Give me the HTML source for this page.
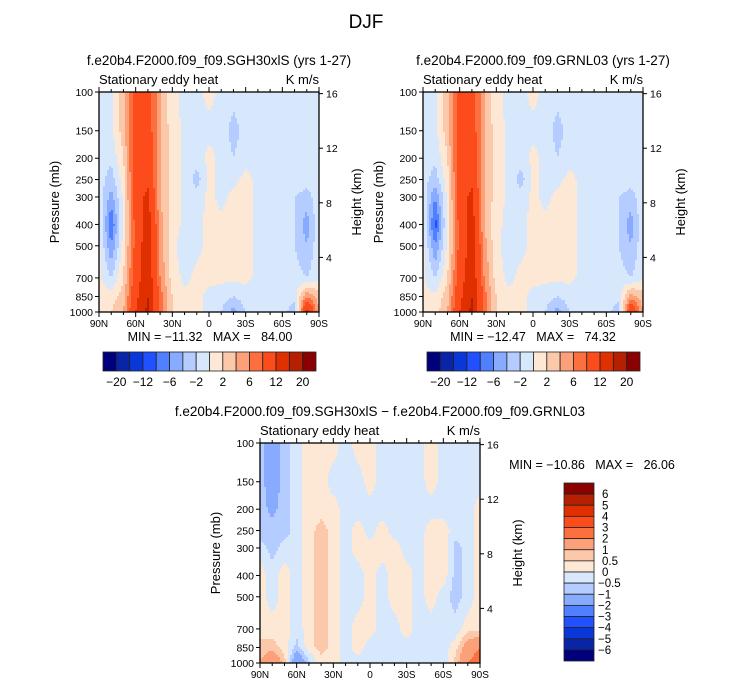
<!DOCTYPE html>
<html><head><meta charset="utf-8"><style>
body{margin:0;background:#fff;}
svg{display:block;font-family:"Liberation Sans",sans-serif;}
text{white-space:pre;}
</style></head><body>
<svg id="fig" width="733" height="686" viewBox="0 0 733 686" xmlns="http://www.w3.org/2000/svg">
<text x="366" y="28" font-size="19" text-anchor="middle">DJF</text>
</svg>
<script>
const lats=[90,80,70,60,50,40,30,20,10,0,-10,-20,-30,-40,-50,-60,-70,-80,-90];
const levels=[100,150,200,250,300,400,500,700,850,1000];
const pTicks=[100,150,200,250,300,400,500,700,850,1000];
const hTicks=[4,8,12,16];
const xTickLabels=["90N","60N","30N","0","30S","60S","90S"];
const xTickLats=[90,60,30,0,-30,-60,-90];
const palette=["#00007c","#0a24a8","#0a38d8","#2050ff","#4e80ff","#88aaff","#b4ccff","#d8e8fc","#fde8d6","#fcc8aa","#fca07a","#fc7040","#fc4c1c","#e03000","#b42000","#8b0000"];
const bounds1=[-20,-16,-12,-8,-6,-4,-2,0,2,4,6,8,12,16,20];
const bounds1Labels=["-20","-12","-6","-2","2","6","12","20"];
const bounds3=[-6,-5,-4,-3,-2,-1,-0.5,0,0.5,1,2,3,4,5,6];
const bounds3Labels=["-6","-5","-4","-3","-2","-1","-0.5","0","0.5","1","2","3","4","5","6"];
const field1=[
[-1,-0.5,3,10,10,4,0.5,-0.5,-0.5,0.5,-0.5,-1,-0.5,-0.5,-0.5,-0.5,-0.5,-0.5,-0.5],
[-1,-0.5,3,10,10,4,1,-0.5,-0.5,-0.5,-0.5,-3,-1,-0.5,-0.5,-0.5,-0.5,-0.5,-0.5],
[-1,-1.5,2,10,11,4,1.5,-0.5,-1,0.5,-0.5,-2,-0.5,-0.5,-0.5,-0.5,-0.5,-0.5,-0.5],
[-1,-3,1,10,11,4,1,-0.5,-3,0.5,-0.5,-0.5,0.5,-0.5,-0.5,-0.5,-0.5,-1,-0.5],
[-0.5,-5,0.5,10,13,4,1,-0.5,-1,0.5,-0.5,0.5,1,-0.5,-0.5,-0.5,-2,-3,-0.5],
[0.5,-8,0.5,9,14,5,1,-0.5,-0.5,0.5,0.5,0.5,1,-0.5,-0.5,-0.5,-2,-5,-0.5],
[0.5,-6,1,9,15,5,0.5,-1,-0.5,0.5,0.5,0.5,1,-0.5,-0.5,-0.5,-2,-4,-0.5],
[0.5,-2,2,10,15,6,1,-0.5,0.5,0.5,0.5,0.5,0.5,-0.5,-0.5,-0.5,-1,-2,-0.5],
[1,1,3,11,16,7,2,0.5,0.5,-0.5,-1,-2,-1,-0.5,-0.5,-0.5,-1,6,3],
[1,2,4,12,17,7,2,0.5,0.5,-0.5,-2,-5,-2,-0.5,-0.5,-0.5,-4,14,4]];
const field2=[
[-1,-0.5,3,10,10,4,0.5,-0.5,-0.5,0.5,-0.5,-1,-0.5,-0.5,-0.5,-0.5,-0.5,-0.5,-0.5],
[-1,-0.5,3,10,10,4,1,-0.5,-0.5,-0.5,-0.5,-3,-1,-0.5,-0.5,-0.5,-0.5,-0.5,-0.5],
[-1,-1.5,2,10,11,4,1,-0.5,-1,0.5,-0.5,-2,-0.5,-0.5,-0.5,-0.5,-0.5,-0.5,-0.5],
[-1,-3,1,10,11,4,1,-0.5,-3,0.5,-0.5,-0.5,0.5,-0.5,-0.5,-0.5,-0.5,-1,-0.5],
[-0.5,-6,0.5,10,13,4,1,-0.5,-1,0.5,-0.5,0.5,1,-0.5,-0.5,-0.5,-2,-3,-0.5],
[0.5,-9,0.5,9,14,4,0.5,-0.5,-0.5,0.5,0.5,0.5,1,-0.5,-0.5,-0.5,-2,-5,-0.5],
[0.5,-6,0.5,9,14,5,0.5,-1,-0.5,0.5,0.5,0.5,1,-0.5,-0.5,-0.5,-2,-4,-0.5],
[0.5,-2,2,10,15,6,1,-0.5,0.5,0.5,0.5,0.5,0.5,-0.5,-0.5,-0.5,-1,-2,-0.5],
[0.5,0.5,3,11,16,7,2,0.5,0.5,-0.5,-1,-2,-1,-0.5,-0.5,-0.5,-1,5,3],
[0.5,1,4,12,17,7,2,0.5,0.5,-0.5,-2,-5,-2,-0.5,-0.5,-0.5,-4,12,4]];
const field3=[
[-0.7,-1.5,-0.7,-0.3,0.3,0.3,0.3,-0.3,0.3,0.3,-0.3,-0.3,-0.3,-0.3,0.3,-0.3,-0.3,-0.3,-0.3],
[-0.7,-1.5,-0.7,-0.3,0.3,0.3,-0.3,-0.3,-0.3,0.3,-0.3,-0.3,-0.3,-0.3,0.3,-0.3,-0.3,-0.3,-0.3],
[-0.7,-1.2,-0.7,-0.3,0.3,0.3,0.3,-0.3,-0.3,-0.3,-0.3,-0.3,-0.3,-0.3,-0.3,-0.3,-0.3,-0.3,0.3],
[-0.7,-0.7,-0.7,-0.3,0.3,0.7,0.3,-0.3,0.3,-0.3,0.3,-0.3,-0.3,-0.3,0.3,0.3,-0.3,-0.3,0.3],
[-0.3,-0.7,-0.3,-0.3,0.3,0.7,0.3,-0.3,0.3,0.3,0.3,0.3,-0.3,-0.3,0.3,0.3,-0.7,-0.3,0.3],
[0.3,-0.3,0.3,-0.3,0.3,0.7,0.3,-0.3,-0.3,0.3,-0.3,0.3,0.3,-0.3,0.3,0.3,-0.7,-0.3,0.3],
[0.3,-0.3,0.3,-0.3,0.3,0.7,0.3,-0.3,-0.3,0.3,-0.3,0.3,0.3,-0.3,0.3,-0.3,-0.7,-0.3,0.3],
[0.3,0.3,0.3,-0.3,0.3,0.7,0.3,-0.3,0.3,0.3,-0.3,-0.3,0.3,-0.3,-0.3,-0.3,-0.3,0.3,0.3],
[0.7,0.7,0.3,-0.7,0.3,0.7,0.3,-0.3,0.3,-0.3,-0.3,-0.3,-0.3,-0.3,-0.3,-0.3,0.3,1.5,2],
[1,2,0.7,-2,-0.7,0.3,0.3,-0.3,-0.3,-0.3,-0.3,-0.3,-0.3,-0.3,-0.3,-0.3,0.7,2,2.5]];

const NS="http://www.w3.org/2000/svg";
const svg=document.getElementById('fig');
function mk(tag,attrs,parent,txt){const e=document.createElementNS(NS,tag);for(const k in attrs)e.setAttribute(k,attrs[k]);if(txt!==undefined)e.textContent=txt;(parent||svg).appendChild(e);return e;}

function panel(name,x0,y0,w,h,field,bounds,title,minmax,mmx,mmy){
  const g=mk('g',{});
  
  
  const xs=lat=>x0+(90-lat)/180*w;
  const ys=p=>y0+h-Math.log10(1000/p)*h;
  const col=v=>{let i=0;while(i<bounds.length&&v>=bounds[i])i++;return palette[i];};
  const px=lats.map(xs), py=levels.map(ys);
  function val(x,y){
    let i=0;while(i<px.length-2&&x>px[i+1])i++;
    let j=0;while(j<py.length-2&&y>py[j+1])j++;
    const tx=Math.min(1,Math.max(0,(x-px[i])/(px[i+1]-px[i])));
    const ty=Math.min(1,Math.max(0,(y-py[j])/(py[j+1]-py[j])));
    const a=field[j][i],b=field[j][i+1],c=field[j+1][i],d=field[j+1][i+1];
    return (a*(1-tx)+b*tx)*(1-ty)+(c*(1-tx)+d*tx)*ty;
  }
  const step=2;
  const cg=mk('g',{},g);
  
  
  for(let y=y0;y<y0+h;y+=step){
    let runStart=x0,runCol=null;
    for(let x=x0;x<=x0+w;x+=step){
      const c=x<x0+w?col(val(x+step/2,y+step/2)):null;
      if(c!==runCol){
        if(runCol!==null){mk('rect',{x:runStart,y:y,width:Math.min(x,x0+w)-runStart+0.5,height:Math.min(step,y0+h-y)+0.5,fill:runCol},cg);}
        runStart=x;runCol=c;
      }
    }
  }
  const fr=mk('rect',{x:x0,y:y0,width:w,height:h,fill:'none',stroke:'#000','stroke-width':1.3},g);
  
  
  pTicks.forEach(p=>{const y=ys(p);mk('line',{x1:x0-4,x2:x0,y1:y,y2:y,stroke:'#000'},g);
    const t=mk('text',{x:x0-6,y:y+4,'font-size':10.5,'text-anchor':'end'},g,p);
    });
  hTicks.forEach(z=>{const y=ys(1000*Math.exp(-z/7));mk('line',{x1:x0+w,x2:x0+w+4,y1:y,y2:y,stroke:'#000'},g);
    const t=mk('text',{x:x0+w+7,y:y+4,'font-size':10.5},g,z);
    });
  for(let l=90;l>=-90;l-=10){const x=xs(l);const maj=l%30===0;mk('line',{x1:x,x2:x,y1:y0+h,y2:y0+h+(maj?5:3),stroke:'#000'},g);mk('line',{x1:x,x2:x,y1:y0,y2:y0-(maj?5:3),stroke:'#000'},g);}
  xTickLats.forEach((l,i)=>{const t=mk('text',{x:xs(l),y:y0+h+15,'font-size':10,'text-anchor':'middle'},g,xTickLabels[i]);
    });
  let t=mk('text',{x:x0-40,y:y0+h/2,'font-size':13,'text-anchor':'middle',transform:`rotate(-90 ${x0-40} ${y0+h/2})`},g,'Pressure (mb)');
  
  t=mk('text',{x:x0+w+42,y:y0+h/2,'font-size':13,'text-anchor':'middle',transform:`rotate(-90 ${x0+w+42} ${y0+h/2})`},g,'Height (km)');
  
  t=mk('text',{x:x0,y:y0-8,'font-size':13},g,'Stationary eddy heat');
  
  t=mk('text',{x:x0+w,y:y0-8,'font-size':13,'text-anchor':'end'},g,'K m/s');
  
  t=mk('text',{x:x0+w/2+10,y:y0-27,'font-size':13.5,'text-anchor':'middle'},g,title);
  
  t=mk('text',{x:mmx,y:mmy,'font-size':12.5,'text-anchor':'middle'},g,minmax);
  
}
panel('panel-sgh30',99,92,220,220,field1,bounds1,'f.e20b4.F2000.f09_f09.SGH30xlS (yrs 1-27)','MIN = −11.32   MAX =   84.00',210,341);
panel('panel-grnl03',423,92,220,220,field2,bounds1,'f.e20b4.F2000.f09_f09.GRNL03 (yrs 1-27)','MIN = −12.47   MAX =   74.32',533,341);
panel('panel-difference',260,443,220,220,field3,bounds3,'f.e20b4.F2000.f09_f09.SGH30xlS − f.e20b4.F2000.f09_f09.GRNL03','MIN = −10.86   MAX =   26.06',592,469);

function hbar(name,x0,y0,w,h,labels){
  const g=mk('g',{});
  const bw=w/palette.length;
  palette.forEach((c,i)=>{const r=mk('rect',{x:x0+i*bw,y:y0,width:bw,height:h,fill:c,stroke:'#222','stroke-width':0.8},g);
    });
  labels.forEach((l,k)=>{const t=mk('text',{x:x0+(1+2*k)*bw,y:y0+h+15,'font-size':12,'text-anchor':'middle'},g,l.replace('-','−'));
    });
}
hbar('colorbar-left',103,352,213,19,bounds1Labels);
hbar('colorbar-right',427,352,213,19,bounds1Labels);
(function(){
  const x0=564,y0=483,w=30,h=178;
  const g=mk('g',{});
  const bh=h/palette.length;
  palette.slice().reverse().forEach((c,i)=>{const r=mk('rect',{x:x0,y:y0+i*bh,width:w,height:bh,fill:c,stroke:'#222','stroke-width':0.8},g);
    });
  bounds3Labels.slice().reverse().forEach((l,k)=>{const t=mk('text',{x:x0+w+(l[0]==='-'?4:8),y:y0+(k+1)*bh+4,'font-size':11.5},g,l.replace('-','−'));
    });
})();
</script>
</body></html>
